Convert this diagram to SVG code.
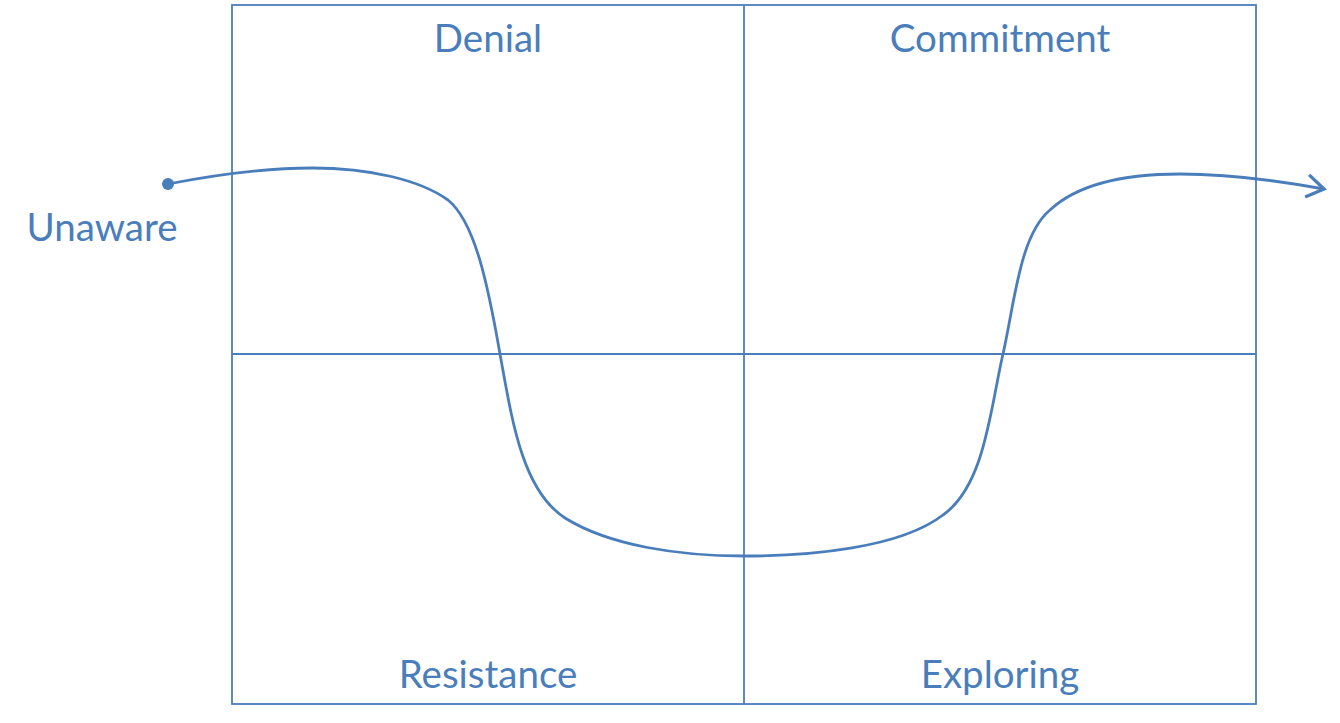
<svg xmlns="http://www.w3.org/2000/svg" width="1340" height="723" viewBox="0 0 1340 723">
<style>
.grid{fill:none;stroke:#4A7EBB;stroke-width:1.8}
.lbl{font-family:Lato,"Open Sans",sans-serif;font-size:38.5px;fill:#4A7EBB;text-anchor:middle}
.curve{fill:none;stroke:#4A7EBB;stroke-width:2.8}
</style>
<defs>
<marker id="arr" markerUnits="userSpaceOnUse" markerWidth="24" markerHeight="26" refX="16" refY="11" orient="auto" viewBox="0 0 20 22">
<path d="M1.5,1.5 L16,11 L1.5,20.5" fill="none" stroke="#4A7EBB" stroke-width="2.8"/>
</marker>
</defs>
<rect width="1340" height="723" fill="#fff"/>
<g id="grid">
<rect class="grid" x="232" y="5" width="1024" height="699"/>
<line class="grid" x1="744" y1="5" x2="744" y2="704"/>
<line class="grid" x1="232" y1="354" x2="1256" y2="354"/>
</g>
<g id="denial"><text class="lbl" x="488" y="52">Denial</text></g>
<g id="commitment"><text class="lbl" x="1000" y="52">Commitment</text></g>
<g id="resistance"><text class="lbl" x="488" y="688">Resistance</text></g>
<g id="exploring"><text class="lbl" x="1000" y="688">Exploring</text></g>
<g id="unaware"><text class="lbl" x="102" y="241">Unaware</text></g>
<g id="connectors">
<circle cx="168" cy="184" r="6" fill="#4A7EBB"/>
<path class="curve" marker-end="url(#arr)" d="M168,184 C220,174 270,168 312,168 C370,168 420,180 448,200 C475,222 488,285 500,354 C512,420 522,490 565,518 C610,546 680,556 744,556 C810,556 900,548 943,515 C985,485 990,410 1003,354 C1015,300 1020,235 1050,210 C1080,182 1130,174 1180,174 C1230,174 1280,181 1324,189"/>
</g>
</svg>
